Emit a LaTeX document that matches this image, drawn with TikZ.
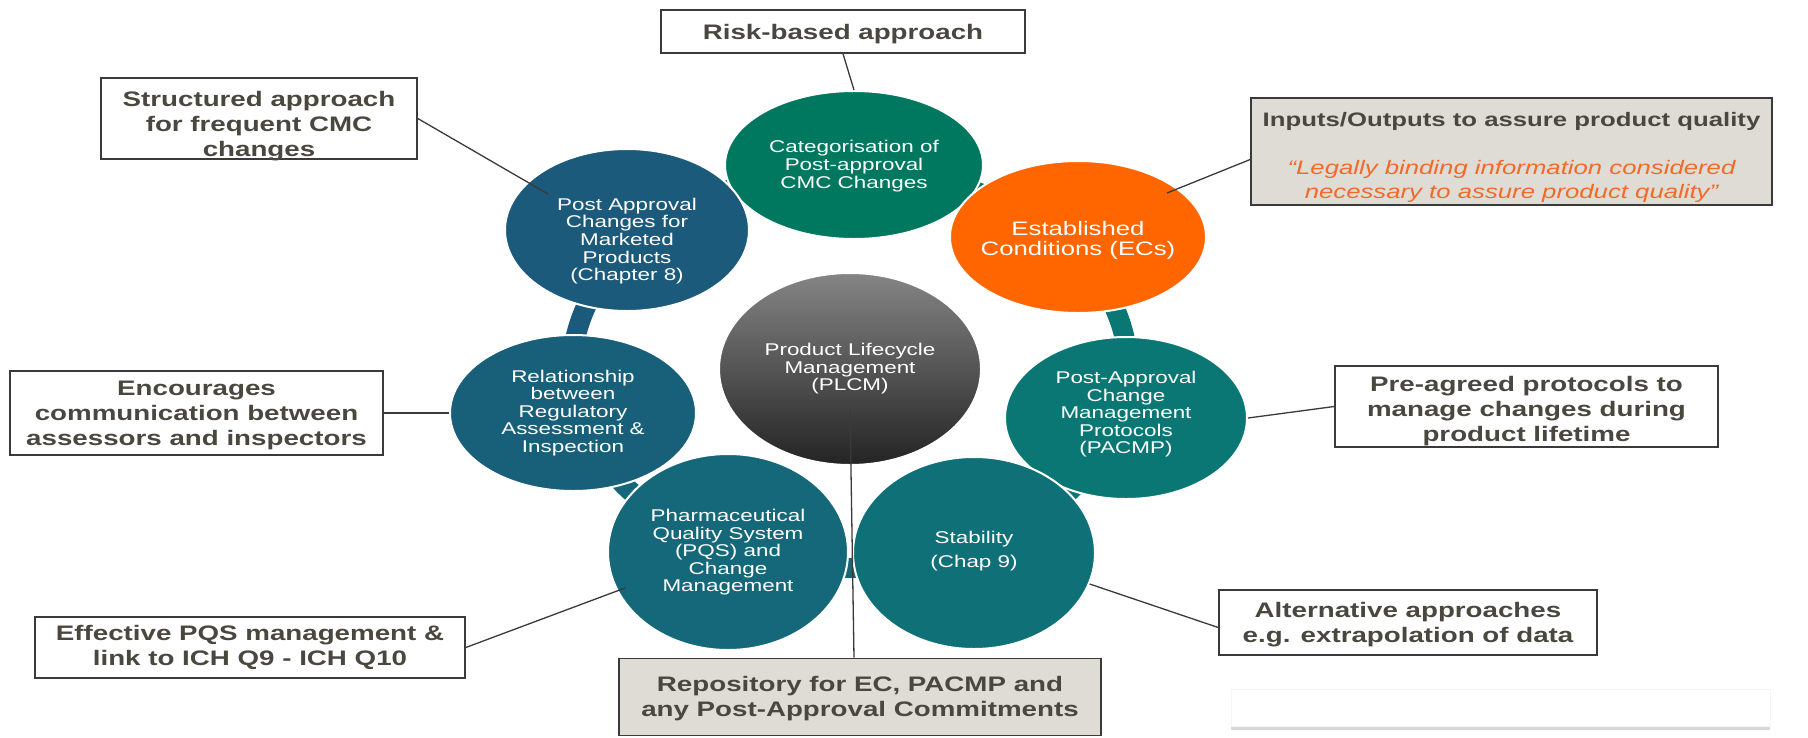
\documentclass[tikz,border=0pt]{standalone}
\usepackage{fontspec}
\setmainfont{Liberation Sans}[FakeStretch=1.32]
\usetikzlibrary{shapes.geometric,shadows,calc}
\pgfdeclarelayer{bg}
\pgfsetlayers{bg,main}
\newcommand\shifttext[2]{\raisebox{#1}[\height][\depth]{\begin{tabular}{@{}c@{}}#2\end{tabular}}}
\definecolor{catc}{HTML}{00775F}
\definecolor{ecc}{HTML}{FF6600}
\definecolor{pac}{HTML}{1C5A7B}
\definecolor{relc}{HTML}{186079}
\definecolor{pqsc}{HTML}{14687A}
\definecolor{stabc}{HTML}{107078}
\definecolor{pacmpc}{HTML}{0A7774}
\definecolor{boxtxt}{HTML}{4A483E}
\definecolor{boxgray}{HTML}{DEDCD5}
\definecolor{orangetxt}{HTML}{F26A2A}
\definecolor{linec}{HTML}{3A3A3A}
\tikzset{
  circ/.style={ellipse, draw=white, line width=2pt, inner sep=0pt, text=white, align=center,
    font=\fontsize{17}{17.5}\selectfont},
  lbl/.style={draw=linec, line width=1.6pt, fill=white, text=boxtxt, align=center,
    font=\bfseries\fontsize{21}{25}\selectfont, inner sep=0pt},
  conn/.style={draw=linec, line width=1.3pt},
  ringbar/.style={line width=20pt},
}
\begin{document}
\begin{tikzpicture}[x=1pt,y=-1pt]
\useasboundingbox (0,0) rectangle (1808,737);

% ring of topics
\node[circ, fill=catc, minimum width=258, minimum height=148] (cat) at (854,165)
  {\shifttext{-2pt}{Categorisation of\\Post-approval\\CMC Changes}};
\node[circ, fill=ecc, minimum width=256, minimum height=152, inner xsep=-25pt,
  font=\fontsize{19.5}{19}\selectfont] (ec) at (1078,237)
  {\shifttext{-4pt}{Established\\Conditions (ECs)}};
\node[circ, fill=pacmpc, minimum width=242, minimum height=162] (pacmp) at (1126,418)
  {\shifttext{3pt}{Post-Approval\\Change\\Management\\Protocols\\(PACMP)}};
\node[circ, fill=stabc, minimum width=242, minimum height=192] (stab) at (974,553)
  {\shifttext{1pt}{Stability\\[6pt](Chap 9)}};
\node[circ, fill=pqsc, minimum width=240, minimum height=196] (pqs) at (728,552)
  {\shifttext{-1pt}{Pharmaceutical\\Quality System\\(PQS) and\\Change\\Management}};
\node[circ, fill=relc, minimum width=246, minimum height=156] (rel) at (573,413)
  {Relationship\\between\\Regulatory\\Assessment \&\\Inspection};
\node[circ, fill=pac, minimum width=244, minimum height=162] (pa) at (627,230)
  {\shifttext{-12pt}{Post Approval\\Changes for\\Marketed\\Products\\(Chapter 8)}};
\node[circ, top color=black!48, middle color=black!76, bottom color=black!86,
  minimum width=262, minimum height=192] (plcm) at (850,369)
  {Product Lifecycle\\Management\\(PLCM)};

\begin{pgfonlayer}{bg}
  \fill[white] (0,0) rectangle (1808,737);
  % pieces of the ring that links the topics
  \draw[ringbar, pac] ($(plcm.center)+({278*cos(183)},{199*sin(183)})$)
    arc[start angle=183, end angle=203, x radius=278, y radius=199];
  \draw[ringbar, pac] ($(plcm.center)+({278*cos(233)},{199*sin(233)})$)
    arc[start angle=233, end angle=253, x radius=278, y radius=199];
  \draw[ringbar, catc] ($(plcm.center)+({278*cos(-73)},{199*sin(-73)})$)
    arc[start angle=-73, end angle=-53, x radius=278, y radius=199];
  \draw[ringbar, pacmpc] ($(plcm.center)+({278*cos(-23)},{199*sin(-23)})$)
    arc[start angle=-23, end angle=-3, x radius=278, y radius=199];
  \draw[ringbar, pacmpc] ($(plcm.center)+({278*cos(28)},{199*sin(28)})$)
    arc[start angle=28, end angle=47, x radius=278, y radius=199];
  \draw[ringbar, pqsc] ($(plcm.center)+({278*cos(84)},{199*sin(84)})$)
    arc[start angle=84, end angle=96, x radius=278, y radius=199];
  \draw[ringbar, pqsc] ($(plcm.center)+({278*cos(133)},{199*sin(133)})$)
    arc[start angle=133, end angle=152, x radius=278, y radius=199];
\end{pgfonlayer}

% callout boxes
\node[lbl, minimum width=364, minimum height=43] (risk) at (843,31.5)
  {\shifttext{-3pt}{Risk-based approach}};
\node[lbl, minimum width=316, minimum height=81] (struct) at (259,118.5)
  {\shifttext{-8pt}{Structured approach\\for frequent CMC\\changes}};
\node[lbl, fill=boxgray, minimum width=521, minimum height=107,
  font=\fontsize{19.5}{24}\selectfont] (io) at (1511.5,151.5)
  {\shifttext{-6pt}{\textbf{Inputs/Outputs to assure product quality}\\[24pt]
   {\color{orangetxt}\itshape “Legally binding information considered}\\
   {\color{orangetxt}\itshape necessary to assure product quality”}}};
\node[lbl, minimum width=373, minimum height=84] (enc) at (196.5,413)
  {\shifttext{-2pt}{Encourages\\communication between\\assessors and inspectors}};
\node[lbl, minimum width=383, minimum height=81] (pre) at (1526.5,406.5)
  {\shifttext{-5pt}{Pre-agreed protocols to\\manage changes during\\product lifetime}};
\node[lbl, minimum width=378, minimum height=65] (alt) at (1408,622.5)
  {\shifttext{-2pt}{Alternative approaches\\e.g. extrapolation of data}};
\node[lbl, minimum width=430, minimum height=61] (eff) at (250,647.5)
  {Effective PQS management \&\\link to ICH Q9 - ICH Q10};
\node[lbl, fill=boxgray, minimum width=482, minimum height=77] (repo) at (860,697)
  {\shifttext{-2pt}{Repository for EC, PACMP and\\any Post-Approval Commitments}};
\node[fill=white, draw=black!4, line width=0.6pt, minimum width=539, minimum height=37, inner sep=0pt,
  drop shadow={shadow xshift=0pt, shadow yshift=-4pt, opacity=0.3}] (blank) at (1500.5,707.5) {};

% connectors
\coordinate (plcmtail) at ($(plcm.center)+(0,40)$);
\draw[conn] (risk.south) -- (cat.north);
\draw[conn] ($(ec.center)+(89,-44)$) -- ($(io.west)+(0,8)$);
\draw[conn] (struct.east) -- ($(pa.center)+(-79,-36)$);
\draw[conn] (enc.east) -- (rel.west);
\draw[conn] (pacmp.east) -- (pre.west);
\draw[conn] (stab.-15) -- ($(alt.west)+(0,5)$);
\draw[conn] (eff.east) -- ($(pqs.center)+(-103,36)$);
\draw[conn] (plcmtail) -- ($(repo.north)+(-6,0)$);
\end{tikzpicture}
\end{document}
